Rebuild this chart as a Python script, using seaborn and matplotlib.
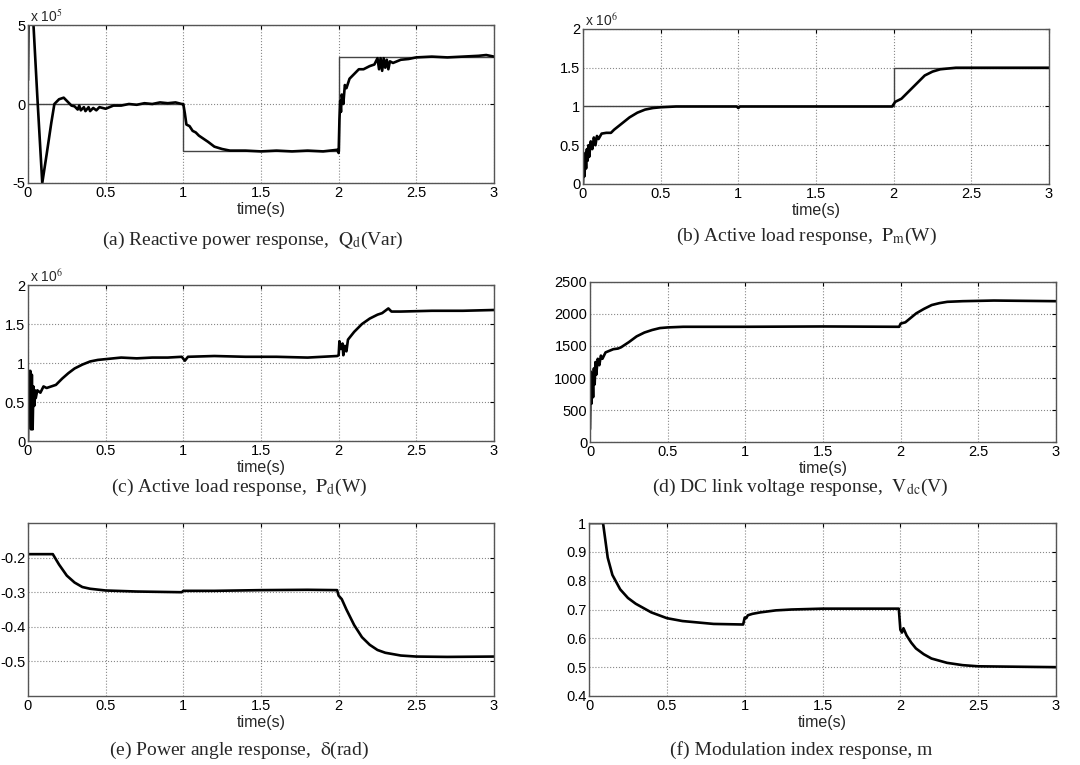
import matplotlib
matplotlib.use("Agg")
import matplotlib.pyplot as plt
import seaborn as sns
import pandas as pd

# (a) reactive power, units of 1e5 Var
qa_t = [0, 0.004, 0.03, 0.06, 0.092, 0.12, 0.15, 0.17, 0.2, 0.23, 0.26, 0.28, 0.3, 0.32, 0.33,
        0.34, 0.36, 0.37, 0.39, 0.40, 0.42, 0.44, 0.46, 0.5, 0.55, 0.6, 0.65, 0.7, 0.75, 0.8,
        0.85, 0.9, 0.95, 0.99, 1.0, 1.01, 1.02, 1.04, 1.06, 1.08, 1.1, 1.13, 1.16, 1.2, 1.25,
        1.3, 1.4, 1.5, 1.6, 1.7, 1.8, 1.9, 1.99, 2.0, 2.005, 2.01, 2.015, 2.02, 2.03, 2.04,
        2.05, 2.07, 2.1, 2.13, 2.16, 2.2, 2.23, 2.25, 2.26, 2.27, 2.28, 2.29, 2.3, 2.31, 2.32,
        2.33, 2.35, 2.4, 2.45, 2.5, 2.6, 2.7, 2.8, 2.9, 2.95, 3.0]
qa_v = [1.5, 6, 6, 0.5, -5, -3.2, -1.2, 0, 0.3, 0.4, 0.1, -0.1, -0.15, -0.35, -0.1,
        -0.4, -0.2, -0.45, -0.2, -0.45, -0.25, -0.4, -0.2, -0.3, -0.1, -0.1, 0.0, -0.05, 0.05, 0.0,
        0.1, 0.05, 0.1, 0.0, 0.0, -0.6, -1.3, -1.4, -1.7, -1.8, -2.0, -2.2, -2.4, -2.7, -2.85,
        -2.95, -2.95, -3.0, -2.95, -3.0, -2.95, -3.0, -2.9, -3.1, -1.0, 0.2, -0.5, 0.6, 0.0, 1.2,
        1.0, 1.6, 1.9, 2.2, 2.2, 2.4, 2.5, 2.9, 2.2, 2.9, 2.1, 2.9, 2.3, 2.8, 2.2,
        2.7, 2.6, 2.8, 2.85, 2.95, 3.0, 2.95, 3.0, 3.05, 3.1, 3.0]
qa_ref_t = [0, 1, 1, 2, 2, 3]
qa_ref_v = [0, 0, -3, -3, 3, 3]

# (b) active load Pm, units of 1e6 W
pm_t = [0, 0.005, 0.01, 0.015, 0.02, 0.025, 0.03, 0.035, 0.04, 0.05, 0.06, 0.07, 0.08, 0.09,
        0.1, 0.12, 0.15, 0.18, 0.2, 0.25, 0.3, 0.35, 0.4, 0.45, 0.5, 0.6, 0.8, 0.99, 1.0, 1.01,
        1.5, 1.99, 2.0, 2.01, 2.05, 2.1, 2.15, 2.2, 2.25, 2.3, 2.4, 3.0]
pm_v = [0, 0.35, 0.1, 0.4, 0.2, 0.45, 0.3, 0.5, 0.35, 0.55, 0.45, 0.6, 0.5, 0.62,
        0.58, 0.65, 0.66, 0.66, 0.7, 0.78, 0.86, 0.92, 0.96, 0.98, 0.99, 1.0, 1.0, 1.0, 0.98, 1.0,
        1.0, 1.0, 1.03, 1.06, 1.1, 1.2, 1.3, 1.4, 1.45, 1.48, 1.5, 1.5]
pm_ref_t = [0, 2, 2, 3]
pm_ref_v = [1, 1, 1.5, 1.5]

# (c) active load Pd, units of 1e6 W
pd_t = [0, 0.005, 0.01, 0.015, 0.02, 0.025, 0.03, 0.035, 0.04, 0.045, 0.05, 0.06, 0.08, 0.1,
        0.12, 0.15, 0.18, 0.22, 0.26, 0.3, 0.35, 0.4, 0.45, 0.5, 0.6, 0.7, 0.8, 0.9, 0.99, 1.01,
        1.03, 1.2, 1.4, 1.6, 1.8, 1.99, 2.0, 2.005, 2.015, 2.025, 2.03, 2.04, 2.05, 2.06, 2.1,
        2.15, 2.2, 2.25, 2.28, 2.3, 2.32, 2.34, 2.4, 2.6, 2.8, 3.0]
pd_v = [0, 0.9, 0.3, 0.9, 0.15, 0.85, 0.15, 0.7, 0.45, 0.65, 0.55, 0.65, 0.62, 0.7,
        0.68, 0.7, 0.72, 0.8, 0.87, 0.93, 0.98, 1.02, 1.04, 1.05, 1.07, 1.06, 1.07, 1.07, 1.08, 1.03,
        1.08, 1.09, 1.08, 1.08, 1.07, 1.09, 1.1, 1.28, 1.18, 1.25, 1.1, 1.22, 1.15, 1.3, 1.4,
        1.5, 1.57, 1.62, 1.64, 1.67, 1.7, 1.66, 1.66, 1.67, 1.67, 1.68]

# (d) DC link voltage, V
vdc_t = [0, 0.005, 0.01, 0.015, 0.02, 0.025, 0.03, 0.035, 0.04, 0.05, 0.06, 0.07, 0.08, 0.1,
         0.12, 0.15, 0.18, 0.2, 0.25, 0.3, 0.35, 0.4, 0.45, 0.5, 0.6, 1.0, 1.5, 1.99, 2.0, 2.03,
         2.06, 2.1, 2.15, 2.2, 2.25, 2.3, 2.4, 2.6, 3.0]
vdc_v = [200, 1100, 600, 1050, 700, 1150, 900, 1250, 1050, 1300, 1200, 1350, 1300, 1400,
         1420, 1450, 1460, 1480, 1560, 1650, 1710, 1750, 1780, 1790, 1800, 1800, 1805, 1800, 1850, 1870,
         1930, 2010, 2080, 2140, 2170, 2190, 2200, 2210, 2200]

# (e) power angle, rad
de_t = [0, 0.16, 0.2, 0.25, 0.3, 0.35, 0.4, 0.5, 0.7, 0.99, 1.0, 1.2, 1.5, 1.8, 1.99, 2.0,
        2.02, 2.05, 2.1, 2.15, 2.2, 2.25, 2.3, 2.4, 2.5, 2.7, 3.0]
de_v = [-0.19, -0.19, -0.22, -0.252, -0.272, -0.285, -0.29, -0.295, -0.298, -0.3, -0.296,
        -0.296, -0.294, -0.293, -0.294, -0.31, -0.32, -0.35, -0.395, -0.43, -0.452, -0.467,
        -0.475, -0.483, -0.486, -0.487, -0.486]

# (f) modulation index
mi_t = [0, 0.09, 0.1, 0.12, 0.15, 0.2, 0.25, 0.3, 0.35, 0.4, 0.5, 0.6, 0.7, 0.8, 0.99, 1.0,
        1.01, 1.02, 1.05, 1.1, 1.2, 1.3, 1.5, 1.99, 2.0, 2.01, 2.02, 2.04, 2.07, 2.1, 2.15, 2.2,
        2.3, 2.4, 2.5, 3.0]
mi_v = [1.0, 1.0, 0.96, 0.88, 0.82, 0.77, 0.74, 0.72, 0.705, 0.69, 0.67, 0.66, 0.655, 0.65,
        0.648, 0.672, 0.67, 0.68, 0.685, 0.69, 0.697, 0.7, 0.703, 0.703, 0.63, 0.62, 0.635,
        0.61, 0.585, 0.565, 0.545, 0.53, 0.515, 0.507, 0.503, 0.5]

xticks = [0, 0.5, 1, 1.5, 2, 2.5, 3]
xticklabels = ["0", "0.5", "1", "1.5", "2", "2.5", "3"]

panels = [
    dict(t=qa_t, v=qa_v, ref=(qa_ref_t, qa_ref_v), ylim=(-5, 5), yticks=[-5, 0, 5],
         offset=r"x 10$^5$", rect=[0.0259, 0.7608, 0.4315, 0.2065],
         cap=r"(a) Reactive power response,  $\mathrm{Q_d}$(Var)", cap_xy=(0.234, 0.686)),
    dict(t=pm_t, v=pm_v, ref=(pm_ref_t, pm_ref_v), ylim=(0, 2), yticks=[0, 0.5, 1, 1.5, 2],
         offset=r"x 10$^6$", rect=[0.5398, 0.7595, 0.4315, 0.2026],
         cap=r"(b) Active load response,  $\mathrm{P_m}$(W)", cap_xy=(0.747, 0.691)),
    dict(t=pd_t, v=pd_v, ref=None, ylim=(0, 2), yticks=[0, 0.5, 1, 1.5, 2],
         offset=r"x 10$^6$", rect=[0.0259, 0.4235, 0.4315, 0.2039],
         cap=r"(c) Active load response,  $\mathrm{P_d}$(W)", cap_xy=(0.221, 0.363)),
    dict(t=vdc_t, v=vdc_v, ref=None, ylim=(0, 2500), yticks=[0, 500, 1000, 1500, 2000, 2500],
         offset=None, rect=[0.5463, 0.4222, 0.4315, 0.2092],
         cap=r"(d) DC link voltage response,  $\mathrm{V_{dc}}$(V)", cap_xy=(0.741, 0.363)),
    dict(t=de_t, v=de_v, ref=None, ylim=(-0.6, -0.1), yticks=[-0.5, -0.4, -0.3, -0.2],
         offset=None, rect=[0.0259, 0.0902, 0.4315, 0.2261],
         cap=r"(e) Power angle response,  $\mathrm{\delta}$(rad)", cap_xy=(0.221, 0.0196)),
    dict(t=mi_t, v=mi_v, ref=None, ylim=(0.4, 1.0), yticks=[0.4, 0.5, 0.6, 0.7, 0.8, 0.9, 1],
         offset=None, rect=[0.5454, 0.0902, 0.4324, 0.2261],
         cap="(f) Modulation index response, m", cap_xy=(0.742, 0.0196)),
]


def main():
    sns.set_style("white")
    plt.rcParams["font.family"] = ["Liberation Sans", "DejaVu Sans"]
    plt.rcParams["mathtext.fontset"] = "stix"

    fig = plt.figure(figsize=(10.8, 7.65), dpi=100)
    for p in panels:
        ax = fig.add_axes(p["rect"])
        if p["ref"] is not None:
            ref = pd.DataFrame({"t": p["ref"][0], "v": p["ref"][1]})
            sns.lineplot(data=ref, x="t", y="v", ax=ax, color="#444444", lw=1.0,
                         estimator=None, sort=False)
        df = pd.DataFrame({"t": p["t"], "v": p["v"]})
        sns.lineplot(data=df, x="t", y="v", ax=ax, color="black", lw=1.9,
                     estimator=None, sort=False)
        ax.set_xlim(0, 3)
        ax.set_ylim(*p["ylim"])
        ax.set_xticks(xticks)
        ax.set_xticklabels(xticklabels)
        ax.set_yticks(p["yticks"])
        ax.set_yticklabels([f"{y:g}" for y in p["yticks"]])
        ax.grid(True, linestyle=":", color="#888888", lw=0.8)
        ax.tick_params(direction="in", length=3, labelsize=10.5, pad=2, colors="black",
                       top=True, right=True)
        for s in ax.spines.values():
            s.set_color("#555555")
            s.set_linewidth(1.0)
        ax.set_xlabel("time(s)", fontsize=11.5, labelpad=1.5)
        ax.set_ylabel("")
        if p["offset"]:
            ax.text(0.005, 1.0, p["offset"], transform=ax.transAxes, fontsize=10,
                    ha="left", va="bottom")
        fig.text(p["cap_xy"][0], p["cap_xy"][1], p["cap"], ha="center", va="center",
                 fontsize=14, family=["Liberation Serif", "DejaVu Serif"])

    fig.savefig("out.png", dpi=100)


if __name__ == "__main__":
    main()
